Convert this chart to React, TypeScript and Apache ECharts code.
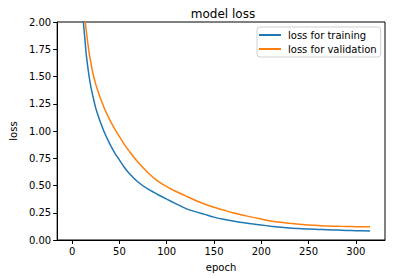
import React, { useEffect, useRef } from "react";
import * as echarts from "echarts";

const epochs = [0, 5, 10, 12, 14, 15, 18, 20, 22, 25, 28, 30, 35, 40, 45, 50, 55, 60, 70, 80, 90, 100, 110, 120, 130, 140, 150, 160, 170, 180, 190, 200, 210, 220, 230, 240, 250, 260, 270, 280, 290, 300, 315];
const trainLoss = [6.0, 3.5, 2.3, 2.0, 1.8, 1.7, 1.5, 1.4, 1.32, 1.21, 1.13, 1.08, 0.97, 0.88, 0.8, 0.735, 0.67, 0.615, 0.53, 0.468, 0.42, 0.375, 0.332, 0.29, 0.26, 0.235, 0.21, 0.19, 0.175, 0.16, 0.148, 0.137, 0.127, 0.118, 0.11, 0.105, 0.1, 0.097, 0.094, 0.091, 0.088, 0.086, 0.083];
const valLoss = [8.0, 4.5, 2.7, 2.3, 2.0, 1.92, 1.72, 1.62, 1.53, 1.43, 1.35, 1.3, 1.19, 1.1, 1.02, 0.95, 0.88, 0.82, 0.71, 0.62, 0.545, 0.49, 0.445, 0.405, 0.365, 0.33, 0.3, 0.275, 0.25, 0.23, 0.21, 0.192, 0.175, 0.162, 0.153, 0.145, 0.138, 0.133, 0.128, 0.126, 0.124, 0.122, 0.121];
const xTicks = [0, 50, 100, 150, 200, 250, 300];
const seriesNames = ["loss for training", "loss for validation"];
const colors = ["#1f77b4", "#ff7f0e"];

const FONT = "DejaVu Sans";

export default function App() {
  const ref = useRef<HTMLDivElement>(null);
  useEffect(() => {
    if (!ref.current) return;
    const chart = echarts.init(ref.current, undefined, { renderer: "svg" });
    const mk = (vals: number[]) => epochs.map((e, i) => [e, vals[i]]);
    chart.setOption({
      animation: false,
      backgroundColor: "#fff",
      textStyle: { fontFamily: FONT },
      title: {
        text: "model loss",
        left: 218,
        top: 3,
        textAlign: "center",
        textStyle: { fontFamily: FONT, fontSize: 12, fontWeight: "normal", color: "#000" },
      },
      legend: {
        orient: "vertical",
        left: 257,
        top: 27,
        itemWidth: 22,
        itemHeight: 2,
        itemGap: 4,
        icon: "rect",
        padding: [3, 4, 3, 2],
        borderColor: "#d0d0d0",
        borderWidth: 1,
        borderRadius: 3,
        textStyle: { fontFamily: FONT, fontSize: 10, color: "#000", padding: [0, 0, 0, 2] },
        data: seriesNames,
      },
      grid: {
        left: 51,
        top: 22,
        right: 11,
        bottom: 38,
        show: true,
        borderColor: "#000",
        borderWidth: 1,
        containLabel: false,
      },
      xAxis: {
        type: "value",
        min: -15.75,
        max: 330.75,
        name: "epoch",
        nameLocation: "middle",
        nameGap: 22,
        nameTextStyle: { fontFamily: FONT, fontSize: 10, color: "#000" },
        axisLine: { show: true, onZero: false, lineStyle: { color: "#000", width: 1 } },
        axisTick: { show: true, length: 4, lineStyle: { color: "#000" }, customValues: xTicks },
        axisLabel: { fontFamily: FONT, fontSize: 10, color: "#000", margin: 6, customValues: xTicks },
        splitLine: { show: false },
      },
      yAxis: {
        type: "value",
        min: 0,
        max: 2,
        interval: 0.25,
        name: "loss",
        nameLocation: "middle",
        nameGap: 36,
        nameTextStyle: { fontFamily: FONT, fontSize: 10, color: "#000" },
        axisLine: { show: true, onZero: false, lineStyle: { color: "#000", width: 1 } },
        axisTick: { show: true, length: 4, lineStyle: { color: "#000" } },
        axisLabel: {
          fontFamily: FONT,
          fontSize: 10,
          color: "#000",
          margin: 6,
          formatter: (v: number) => v.toFixed(2),
        },
        splitLine: { show: false },
      },
      series: [
        {
          name: seriesNames[0],
          type: "line",
          data: mk(trainLoss),
          showSymbol: false,
          clip: true,
          smooth: 0.3,
          color: colors[0],
          lineStyle: { width: 1.5, color: colors[0] },
        },
        {
          name: seriesNames[1],
          type: "line",
          data: mk(valLoss),
          showSymbol: false,
          clip: true,
          smooth: 0.3,
          color: colors[1],
          lineStyle: { width: 1.5, color: colors[1] },
        },
      ],
    });
    return () => chart.dispose();
  }, []);
  return (
    <div
      ref={ref}
      style={{ position: "fixed", left: 0, top: 0, width: 396, height: 278, background: "#fff" }}
    />
  );
}
